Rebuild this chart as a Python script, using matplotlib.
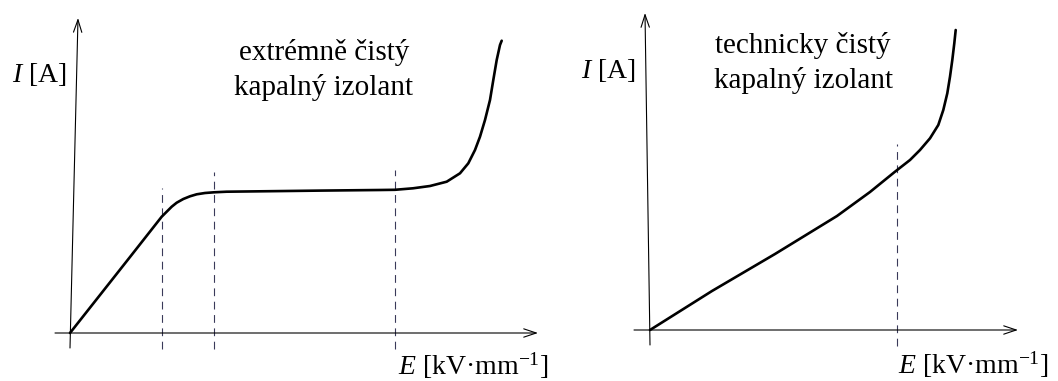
import matplotlib
matplotlib.use("Agg")
import matplotlib.pyplot as plt

plt.rcParams["font.family"] = ["Liberation Serif", "DejaVu Serif"]
plt.rcParams["mathtext.fontset"] = "custom"
plt.rcParams["mathtext.rm"] = "Liberation Serif"
plt.rcParams["mathtext.it"] = "Liberation Serif:italic"

# --- Extremely pure liquid insulator: ohmic rise, saturation plateau, breakdown
pure_E = [0.0, 3.0, 6.0, 9.17, 9.67, 10.17, 10.67, 11.33, 12.0, 12.67, 13.5,
          14.4, 15.67, 20.0, 25.0, 31.0, 32.5, 34.3, 36.0, 37.67, 39.0, 39.83,
          40.5, 41.0, 41.5, 42.0, 42.33, 42.67, 43.0, 43.17]
pure_I = [0.0, 3.8, 7.6, 11.63, 12.13, 12.63, 13.03, 13.4, 13.67, 13.87, 14.0,
          14.07, 14.13, 14.18, 14.24, 14.3, 14.32, 14.47, 14.7, 15.13, 15.97,
          16.97, 18.3, 19.63, 21.3, 23.3, 25.3, 27.3, 28.8, 29.23]
pure_marks = [9.2, 14.4, 32.5]          # region boundaries on the E axis
pure_mark_tops = [14.5, 16.1, 16.3]

# --- Technically pure liquid insulator: nearly linear rise, then breakdown
tech_E = [0.0, 6.2, 12.5, 18.7, 22.0, 24.5, 26.0, 27.0, 28.0, 28.83, 29.33,
          29.73, 30.0, 30.23, 30.43, 30.57]
tech_I = [0.0, 3.9, 7.6, 11.4, 13.8, 15.83, 17.0, 18.0, 19.17, 20.5, 22.0,
          23.67, 25.33, 27.0, 28.67, 30.0]
tech_marks = [24.7]
tech_mark_tops = [18.6]

W, H = 1058, 381
fig = plt.figure(figsize=(W / 100, H / 100), dpi=100)

# each panel uses 10 px per data unit, origin placed inside the panel
ax1 = fig.add_axes([0, 0, 560 / W, 1])
ax1.set_xlim(-7.0, 49.0)
ax1.set_ylim(-4.8, 33.3)
ax2 = fig.add_axes([560 / W, 0, (W - 560) / W, 1])
ax2.set_xlim(-9.0, 40.8)
ax2.set_ylim(-5.1, 33.0)

arrow = dict(arrowstyle="->,head_length=0.9,head_width=0.3", lw=0.8,
             color="black", mutation_scale=10, shrinkA=0, shrinkB=0)


def draw_panel(ax, E, I, marks, tops, x_ax, y_ax):
    ax.set_axis_off()
    ax.annotate("", xy=(x_ax[1], 0), xytext=(x_ax[0], 0), arrowprops=arrow)
    ax.annotate("", xy=y_ax[1], xytext=y_ax[0], arrowprops=arrow)
    for m, t in zip(marks, tops):
        ax.plot([m, m], [-1.6, t], color="#3a3a5a", lw=0.8,
                linestyle=(0, (7, 5)))
    ax.plot(E, I, color="black", lw=1.9, solid_joinstyle="round",
            solid_capstyle="round")


draw_panel(ax1, pure_E, pure_I, pure_marks, pure_mark_tops,
           (-1.5, 46.8), ((0.0, -1.5), (0.8, 31.5)))
draw_panel(ax2, tech_E, tech_I, tech_marks, tech_mark_tops,
           (-1.6, 36.8), ((0.0, -1.5), (-0.5, 31.7)))


def ftext(x, y, s, **kw):
    fig.text(x / W, 1 - y / H, s, fontsize=kw.pop("size", 20),
             va="baseline", **kw)


# left panel labels
ftext(12, 82, r"$I$ [A]", ha="left")
ftext(324, 60, "extrémně čistý", ha="center", size=21)
ftext(324, 95, "kapalný izolant", ha="center", size=21)
ftext(398, 375, r"$E$ [kV·mm$^{-1}$]", ha="left", size=20)

# right panel labels
ftext(581, 78, r"$I$ [A]", ha="left")
ftext(803, 53, "technicky čistý", ha="center", size=21)
ftext(803, 88, "kapalný izolant", ha="center", size=21)
ftext(898, 374, r"$E$ [kV·mm$^{-1}$]", ha="left", size=20)

fig.savefig("out.png", dpi=100)
